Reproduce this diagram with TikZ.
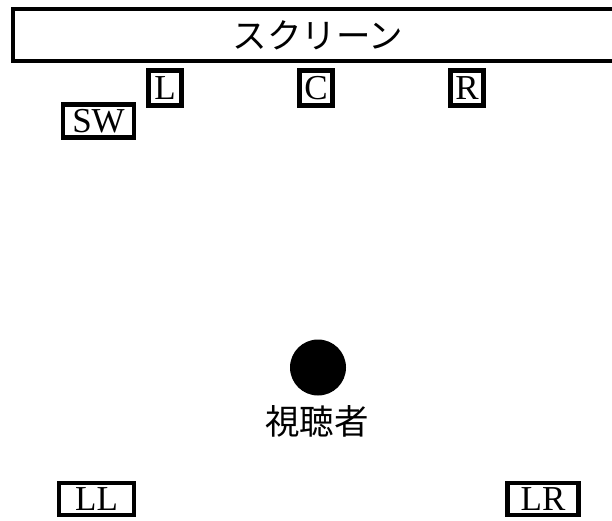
\documentclass[tikz,border=0pt]{standalone}
\usepackage{fontspec}
\setmainfont{Liberation Serif}
\newfontfamily\cjk{Noto Sans CJK JP}
\begin{document}
\begin{tikzpicture}[x=1pt,y=-1pt,
  spk/.style={draw, line width=4.5pt, inner sep=0pt, font=\fontsize{35}{35}\selectfont, anchor=center},
  cjklabel/.style={font=\cjk\fontsize{34.5}{34.5}\selectfont, inner sep=0pt, anchor=center}]
\useasboundingbox (0,0) rectangle (612,521);
\clip (0,0) rectangle (612,521);
\draw[line width=4.5pt] (13,9) rectangle (630,61);
\node[cjklabel] (screen) at (318,35) {スクリーン};
\node[spk, minimum width=33pt, minimum height=35pt] (L) at (165,88) {L};
\node[spk, minimum width=33pt, minimum height=35pt] (C) at (316,88) {C};
\node[spk, minimum width=33pt, minimum height=35pt] (R) at (467,88) {R};
\node[spk, minimum width=71pt, minimum height=33pt] (SW) at (98.5,121) {SW};
\node[spk, minimum width=75pt, minimum height=32pt] (LL) at (96.5,499) {LL};
\node[spk, minimum width=71pt, minimum height=32pt] (LR) at (543,499) {LR};
\fill (318,367.5) circle (28);
\node[cjklabel] (viewer) at (317,421) {視聴者};
\end{tikzpicture}
\end{document}
